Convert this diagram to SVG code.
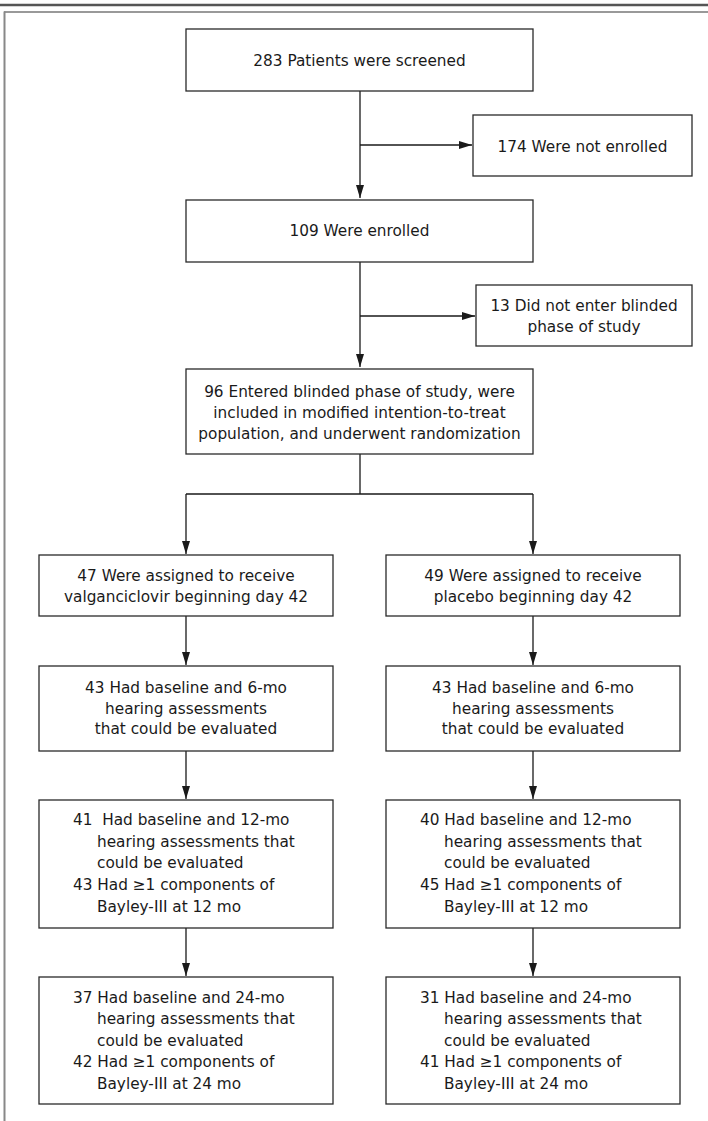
<svg xmlns="http://www.w3.org/2000/svg" width="708" height="1121" viewBox="0 0 708 1121">
<style>
.box{fill:#fff;stroke:#2a2a2a;stroke-width:1.3}
.t{font-family:"DejaVu Sans","Liberation Sans",sans-serif;font-size:15.3px;fill:#1a1a1a}
.c{text-anchor:middle}
.ln{fill:none;stroke:#1a1a1a;stroke-width:1.3}
.ar{marker-end:url(#ah)}
</style>
<defs>
<marker id="ah" markerWidth="13" markerHeight="8" refX="13" refY="4" orient="auto" markerUnits="userSpaceOnUse">
<path d="M0,0 L13,4 L0,8 Z" fill="#1a1a1a"/>
</marker>
</defs>
<rect width="708" height="1121" fill="#fff"/>
<g id="frame">
<line x1="0" y1="5" x2="708" y2="5" stroke="#555" stroke-width="2.6"/>
<line x1="4" y1="12" x2="708" y2="12" stroke="#777" stroke-width="1.5"/>
<line x1="4.5" y1="11.5" x2="4.5" y2="1121" stroke="#888" stroke-width="2"/>
</g>
<g id="connectors">
<path class="ln ar" d="M360,91 V198"/>
<path class="ln ar" d="M360,145 H472"/>
<path class="ln ar" d="M360,262 V367"/>
<path class="ln ar" d="M360,316 H475"/>
<path class="ln" d="M360,454 V494 M186,494 H533"/>
<path class="ln ar" d="M186,494 V554"/>
<path class="ln ar" d="M533,494 V554"/>
<path class="ln ar" d="M186,616 V665"/>
<path class="ln ar" d="M533,616 V665"/>
<path class="ln ar" d="M186,751 V799"/>
<path class="ln ar" d="M533,751 V799"/>
<path class="ln ar" d="M186,928 V976"/>
<path class="ln ar" d="M533,928 V976"/>
</g>
<g id="screened">
<rect class="box" x="186" y="29" width="347" height="62"/>
<text class="t c" x="359.5" y="66">283 Patients were screened</text>
</g>
<g id="not-enrolled">
<rect class="box" x="473" y="115" width="219" height="61"/>
<text class="t c" x="582.5" y="151.5">174 Were not enrolled</text>
</g>
<g id="enrolled">
<rect class="box" x="186" y="200" width="347" height="62"/>
<text class="t c" x="359.5" y="236">109 Were enrolled</text>
</g>
<g id="not-blinded">
<rect class="box" x="476" y="285" width="216" height="61"/>
<text class="t c" x="584" y="310.5">13 Did not enter blinded</text>
<text class="t c" x="584" y="331.5">phase of study</text>
</g>
<g id="randomized">
<rect class="box" x="186" y="369" width="347" height="85"/>
<text class="t c" x="359.5" y="397">96 Entered blinded phase of study, were</text>
<text class="t c" x="359.5" y="418">included in modified intention-to-treat</text>
<text class="t c" x="359.5" y="439">population, and underwent randomization</text>
</g>
<g id="valganciclovir">
<rect class="box" x="39" y="555" width="294" height="61"/>
<text class="t c" x="186" y="581">47 Were assigned to receive</text>
<text class="t c" x="186" y="602">valganciclovir beginning day 42</text>
</g>
<g id="placebo">
<rect class="box" x="386" y="555" width="294" height="61"/>
<text class="t c" x="533" y="581">49 Were assigned to receive</text>
<text class="t c" x="533" y="602">placebo beginning day 42</text>
</g>
<g id="val-6mo">
<rect class="box" x="39" y="666" width="294" height="85"/>
<text class="t c" x="186" y="693">43 Had baseline and 6-mo</text>
<text class="t c" x="186" y="713.5">hearing assessments</text>
<text class="t c" x="186" y="734.3">that could be evaluated</text>
</g>
<g id="pla-6mo">
<rect class="box" x="386" y="666" width="294" height="85"/>
<text class="t c" x="533" y="693">43 Had baseline and 6-mo</text>
<text class="t c" x="533" y="713.5">hearing assessments</text>
<text class="t c" x="533" y="734.3">that could be evaluated</text>
</g>
<g id="val-12mo">
<rect class="box" x="39" y="800" width="294" height="128"/>
<text class="t" x="73" y="825" xml:space="preserve">41  Had baseline and 12-mo</text>
<text class="t" x="97" y="846.7">hearing assessments that</text>
<text class="t" x="97" y="868.4">could be evaluated</text>
<text class="t" x="73" y="890">43 Had ≥1 components of</text>
<text class="t" x="97" y="911.7">Bayley-III at 12 mo</text>
</g>
<g id="pla-12mo">
<rect class="box" x="386" y="800" width="294" height="128"/>
<text class="t" x="420" y="825">40 Had baseline and 12-mo</text>
<text class="t" x="444" y="846.7">hearing assessments that</text>
<text class="t" x="444" y="868.4">could be evaluated</text>
<text class="t" x="420" y="890">45 Had ≥1 components of</text>
<text class="t" x="444" y="911.7">Bayley-III at 12 mo</text>
</g>
<g id="val-24mo">
<rect class="box" x="39" y="977" width="294" height="127"/>
<text class="t" x="73" y="1003">37 Had baseline and 24-mo</text>
<text class="t" x="97" y="1024.4">hearing assessments that</text>
<text class="t" x="97" y="1045.8">could be evaluated</text>
<text class="t" x="73" y="1067.2">42 Had ≥1 components of</text>
<text class="t" x="97" y="1088.6">Bayley-III at 24 mo</text>
</g>
<g id="pla-24mo">
<rect class="box" x="386" y="977" width="294" height="127"/>
<text class="t" x="420" y="1003">31 Had baseline and 24-mo</text>
<text class="t" x="444" y="1024.4">hearing assessments that</text>
<text class="t" x="444" y="1045.8">could be evaluated</text>
<text class="t" x="420" y="1067.2">41 Had ≥1 components of</text>
<text class="t" x="444" y="1088.6">Bayley-III at 24 mo</text>
</g>
</svg>
